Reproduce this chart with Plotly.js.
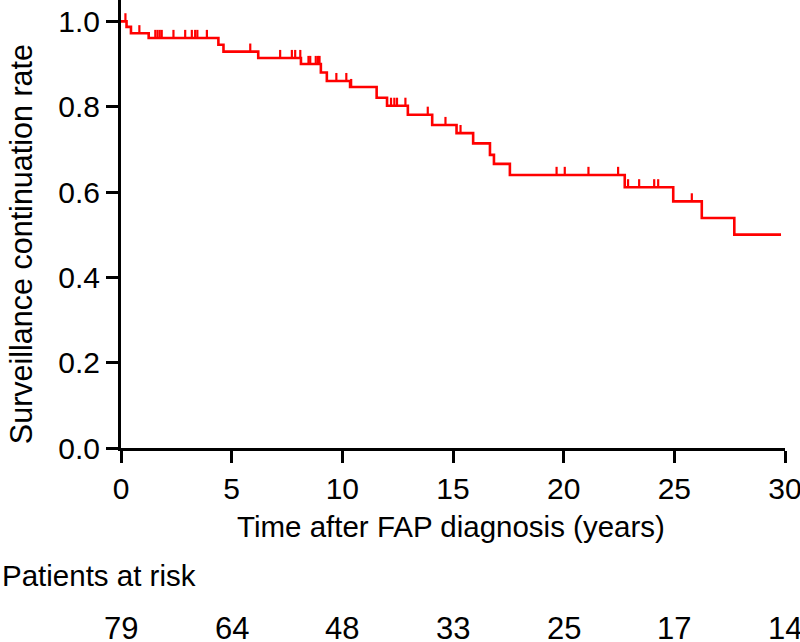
<!DOCTYPE html>
<html>
<head>
<meta charset="utf-8">
<script src="https://cdn.plot.ly/plotly-3.0.1.min.js"></script>
<style>html,body{margin:0;padding:0;background:#fff;}#chart{width:800px;height:642px;}</style>
</head>
<body>
<div id="chart"></div>
<script>
// Kaplan-Meier step data (event times in years, survival after each event)
const eventTimes = [0.25, 0.45, 1.25, 4.4, 4.63, 6.2, 8.13, 9.03, 9.3, 10.35, 11.55, 12.02, 12.96, 14.06, 15.16, 15.91, 16.67, 16.85, 17.57, 22.76, 24.95, 26.24, 27.71];
const survival   = [0.987, 0.972, 0.961, 0.945, 0.929, 0.914, 0.900, 0.880, 0.860, 0.846, 0.821, 0.802, 0.781, 0.757, 0.738, 0.714, 0.687, 0.666, 0.640, 0.611, 0.578, 0.539, 0.500];
const followUpEnd = 29.82;
// Censored observations (years)
const censorTimes = [0.2, 0.83, 1.55, 1.65, 1.75, 1.84, 2.37, 2.9, 3.2, 3.35, 3.45, 3.88, 5.84,
  7.19, 7.72, 7.87, 8.1, 8.47, 8.55, 8.8, 8.9, 8.97, 9.73, 10.18, 10.4,
  12.2, 12.35, 12.47, 12.85, 13.86, 14.66, 15.34,
  19.68, 20.05, 21.12, 22.46, 22.91, 23.41, 24.09, 24.27, 25.79];
// Number at risk table
const riskTimes = [0, 5, 10, 15, 20, 25, 30];
const riskCounts = [79, 64, 48, 33, 25, 17, 14];
const xTicks = [0, 5, 10, 15, 20, 25, 30];
const yTicks = [0, 0.2, 0.4, 0.6, 0.8, 1.0];

function survAt(t) {
  let s = 1.0;
  for (let i = 0; i < eventTimes.length; i++) {
    if (eventTimes[i] <= t) s = survival[i];
  }
  return s;
}

const FONT = '"Liberation Sans", Arial, Helvetica, sans-serif';
const RED = '#ff0000';
const censorMarkH = 0.019;

const stepTrace = {
  type: 'scatter', mode: 'lines',
  x: [0].concat(eventTimes, [followUpEnd]),
  y: [1.0].concat(survival, [survival[survival.length - 1]]),
  line: {shape: 'hv', color: RED, width: 2.6},
  hoverinfo: 'skip', showlegend: false, cliponaxis: false
};

const censorTrace = {
  type: 'scatter', mode: 'markers',
  x: censorTimes,
  y: censorTimes.map(survAt),
  marker: {size: 1, color: 'rgba(0,0,0,0)'},
  error_y: {type: 'data', symmetric: false,
    array: censorTimes.map(() => censorMarkH),
    arrayminus: censorTimes.map(() => 0),
    width: 0, thickness: 2.2, color: RED},
  hoverinfo: 'skip', showlegend: false, cliponaxis: false
};

const annotations = [
  {text: 'Time after FAP diagnosis (years)', xref: 'paper', yref: 'paper', x: 0.4977, y: -0.176,
   xanchor: 'center', yanchor: 'middle', showarrow: false, font: {family: FONT, size: 29.5, color: '#000'}},
  {text: 'Surveillance continuation rate', xref: 'paper', yref: 'paper', x: -0.1506, y: 0.455,
   xanchor: 'center', yanchor: 'middle', textangle: -90, showarrow: false, font: {family: FONT, size: 30.5, color: '#000'}},
  {text: 'Patients at risk', xref: 'paper', yref: 'paper', x: -0.1822, y: -0.2835,
   xanchor: 'left', yanchor: 'middle', showarrow: false, font: {family: FONT, size: 29.5, color: '#000'}}
];
riskTimes.forEach((t, i) => {
  annotations.push({text: String(riskCounts[i]), xref: 'x', yref: 'paper', x: t, y: -0.4018,
    xanchor: 'center', yanchor: 'middle', showarrow: false, font: {family: FONT, size: 31, color: '#000'}});
});

const axisCommon = {
  showline: true, linecolor: '#000', linewidth: 3, ticks: 'outside', ticklen: 12, tickwidth: 3, tickcolor: '#000',
  showgrid: false, zeroline: false, ticklabeloverflow: 'allow',
  tickfont: {family: FONT, size: 30, color: '#000'}
};

const layout = {
  width: 800, height: 642,
  margin: {l: 121, r: 15, t: 0, b: 194, pad: 0},
  paper_bgcolor: '#fff', plot_bgcolor: '#fff',
  font: {family: FONT, color: '#000'},
  xaxis: Object.assign({range: [0, 30], tickvals: xTicks, ticktext: xTicks.map(String)}, axisCommon),
  yaxis: Object.assign({range: [0, 1.05], tickvals: yTicks, ticktext: yTicks.map(v => v.toFixed(1))}, axisCommon),
  annotations: annotations
};

Plotly.newPlot('chart', [stepTrace, censorTrace], layout, {displayModeBar: false, staticPlot: true});
</script>
</body>
</html>
